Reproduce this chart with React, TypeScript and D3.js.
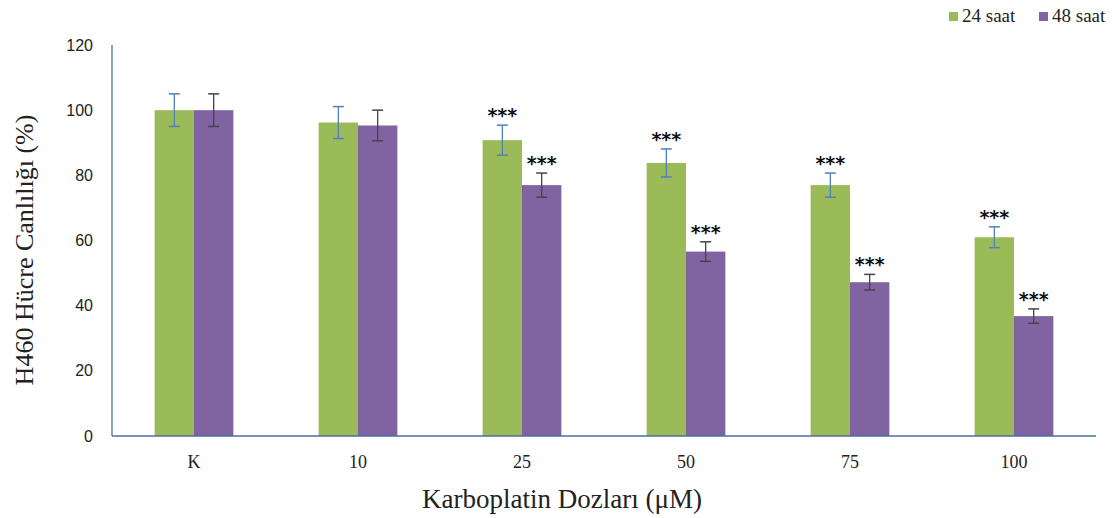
import React from "react";
import * as d3 from "d3";

const categories = ["K", "10", "25", "50", "75", "100"];
const series24 = [100, 96.2, 90.8, 83.8, 77, 61];
const err24 = [5, 4.9, 4.6, 4.3, 3.7, 3.2];
const series48 = [100, 95.3, 77, 56.6, 47.2, 36.8];
const err48 = [5, 4.7, 3.7, 3, 2.4, 2.2];
const sig24 = ["", "", "***", "***", "***", "***"];
const sig48 = ["", "", "***", "***", "***", "***"];
const yTicks = [0, 20, 40, 60, 80, 100, 120];
const seriesNames = ["24 saat", "48 saat"];

const W = 1118, H = 518;
const left = 112, right = 1096, top = 45, bottom = 436;
const GREEN = "#9BBB59", PURPLE = "#8064A2";
const AXIS = "#4a6fa0";
const FONT = "'Liberation Serif', 'Times New Roman', serif";
const SANS = "'Liberation Sans', Arial, sans-serif";

export default function App() {
  const x = d3.scaleBand<string>().domain(categories).range([left, right]).paddingInner(0.52).paddingOuter(0.26);
  const sub = d3.scaleBand<string>().domain(["a", "b"]).range([0, x.bandwidth()]);
  const y = d3.scaleLinear().domain([0, 120]).range([bottom, top]);
  const bw = sub.bandwidth();
  const groups = [
    { vals: series24, errs: err24, sig: sig24, key: "a", color: GREEN, ecol: "#4f81bd" },
    { vals: series48, errs: err48, sig: sig48, key: "b", color: PURPLE, ecol: "#444444" },
  ];
  return (
    <svg width={W} height={H} style={{ display: "block", position: "absolute", left: 0, top: 0 }} fontFamily={FONT}>
      <rect width={W} height={H} fill="#fff" />
      {groups.map((g) =>
        categories.map((c, i) => {
          const bx = (x(c) as number) + (sub(g.key) as number);
          const cx = bx + bw / 2;
          const yt = y(g.vals[i]);
          const ehi = y(g.vals[i] + g.errs[i]);
          const elo = y(g.vals[i] - g.errs[i]);
          return (
            <g key={g.key + c}>
              <rect x={bx} y={yt} width={bw} height={bottom - yt} fill={g.color} />
              <line x1={cx} x2={cx} y1={ehi} y2={elo} stroke={g.ecol} strokeWidth={1.3} />
              <line x1={cx - 5.5} x2={cx + 5.5} y1={ehi} y2={ehi} stroke={g.ecol} strokeWidth={1.5} />
              <line x1={cx - 5.5} x2={cx + 5.5} y1={elo} y2={elo} stroke={g.ecol} strokeWidth={1.5} />
              {g.sig[i] && (
                <text x={cx} y={ehi - 3} textAnchor="middle" fontSize={19} fontWeight="bold" fill="#111" fontFamily="'DejaVu Sans', sans-serif">
                  {g.sig[i]}
                </text>
              )}
            </g>
          );
        })
      )}
      <line x1={left} x2={left} y1={top} y2={bottom} stroke={AXIS} strokeWidth={1.3} />
      <line x1={left} x2={right} y1={bottom} y2={bottom} stroke={AXIS} strokeWidth={1.3} />
      {yTicks.map((t) => (
        <text key={t} x={93} y={y(t)} dy="0.35em" textAnchor="end" fontSize={16} fill="#222" fontFamily={SANS}>
          {t}
        </text>
      ))}
      {categories.map((c) => (
        <text key={c} x={(x(c) as number) + x.bandwidth() / 2} y={468} textAnchor="middle" fontSize={18} fill="#222">
          {c}
        </text>
      ))}
      <text x={562} y={508} textAnchor="middle" fontSize={27} fill="#222">
        Karboplatin Dozları (μM)
      </text>
      <text transform={`translate(33,250) rotate(-90)`} textAnchor="middle" fontSize={26} fill="#222">
        H460 Hücre Canlılığı (%)
      </text>
      {seriesNames.map((n, i) => {
        const lx = i === 0 ? 949 : 1039;
        return (
          <g key={n}>
            <rect x={lx} y={12} width={9} height={9} fill={i === 0 ? GREEN : PURPLE} />
            <text x={lx + 13} y={22} fontSize={19} fill="#222">
              {n}
            </text>
          </g>
        );
      })}
    </svg>
  );
}
